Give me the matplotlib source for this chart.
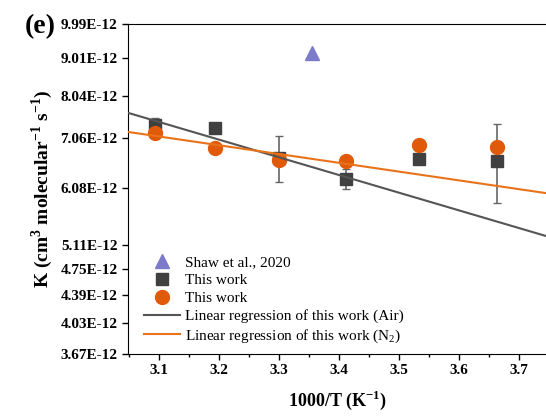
import matplotlib
matplotlib.use("Agg")
import matplotlib.pyplot as plt
from matplotlib.ticker import FixedLocator, MultipleLocator, NullLocator

plt.rcParams['font.family'] = 'Liberation Serif'
plt.rcParams['mathtext.fontset'] = 'custom'
plt.rcParams['mathtext.rm'] = 'Liberation Serif'
plt.rcParams['mathtext.bf'] = 'Liberation Serif:bold'

# Data (K in units of 1e-12)
shaw_x = [3.355]
shaw_k = [9.15]

air_x = [3.093, 3.193, 3.300, 3.412, 3.533, 3.663]
air_k = [7.35, 7.29, 6.65, 6.24, 6.63, 6.59]
air_err = [0.15, 0.0, 0.47, 0.19, 0.0, 0.79]

n2_x = [3.093, 3.193, 3.300, 3.412, 3.533, 3.663]
n2_k = [7.18, 6.86, 6.62, 6.59, 6.92, 6.88]

# regression line end points
fit_x = [3.048, 3.745]
fit_air = [7.63, 5.25]
fit_n2 = [7.20, 5.98]

ytick_vals = [3.67, 4.03, 4.39, 4.75, 5.11, 6.08, 7.06, 8.04, 9.01, 9.99]

fig = plt.figure(figsize=(5.46, 4.16), dpi=100)
ax = fig.add_axes([0.2344, 0.149, 0.7656, 0.7933])

sc = 1e-12
h1, = ax.plot(shaw_x, [v * sc for v in shaw_k], '^', color='#7b7bc9', markersize=10,
              label='Shaw et al., 2020', zorder=3)
ax.errorbar(air_x, [v * sc for v in air_k], yerr=[e * sc for e in air_err],
            fmt='none', ecolor='#666666', capsize=3, elinewidth=1.2, zorder=2)
h2, = ax.plot(air_x, [v * sc for v in air_k], 's', color='#404040', markersize=9,
              label='This work', zorder=3)
h3, = ax.plot(n2_x, [v * sc for v in n2_k], 'o', color='#e05a0a', markersize=10,
              label='This work', zorder=4)
h4, = ax.plot(fit_x, [v * sc for v in fit_air], '-', color='#555555', lw=1.5,
              label='Linear regression of this work (Air)', zorder=5)
h5, = ax.plot(fit_x, [v * sc for v in fit_n2], '-', color='#e8731a', lw=1.5,
              label='Linear regression of this work (N$_2$)', zorder=5)

ax.set_yscale('log')
ax.set_ylim(3.67e-12, 9.99e-12)
ax.set_xlim(3.048, 3.745)
ax.yaxis.set_major_locator(FixedLocator([v * sc for v in ytick_vals]))
ax.yaxis.set_minor_locator(NullLocator())
ax.set_yticklabels(['%.2fE-12' % v for v in ytick_vals])
ax.xaxis.set_major_locator(MultipleLocator(0.1))
ax.xaxis.set_minor_locator(MultipleLocator(0.05))

ax.spines['right'].set_visible(False)
ax.tick_params(direction='out', length=4, width=1, labelsize=11)
ax.tick_params(which='minor', direction='out', length=2.5, width=1)
for lab in ax.get_xticklabels() + ax.get_yticklabels():
    lab.set_fontweight('bold')

ax.set_xlabel('1000/T (K$^{\\mathbf{-1}}$)', fontsize=13, fontweight='bold', labelpad=8)
ax.set_ylabel('K (cm$^{\\mathbf{3}}$ molecular$^{\\mathbf{-1}}$ s$^{\\mathbf{-1}}$)',
              fontsize=14, fontweight='bold', labelpad=4)

fig.text(0.045, 0.935, '(e)', fontsize=20, fontweight='bold', va='center')

ax.legend(handles=[h1, h2, h3, h4, h5], loc='lower left', frameon=False,
          fontsize=11, handlelength=2.4, handletextpad=0.3, labelspacing=0.28,
          borderaxespad=0.3, bbox_to_anchor=(0.012, -0.005))

fig.savefig('out.png', dpi=100)
